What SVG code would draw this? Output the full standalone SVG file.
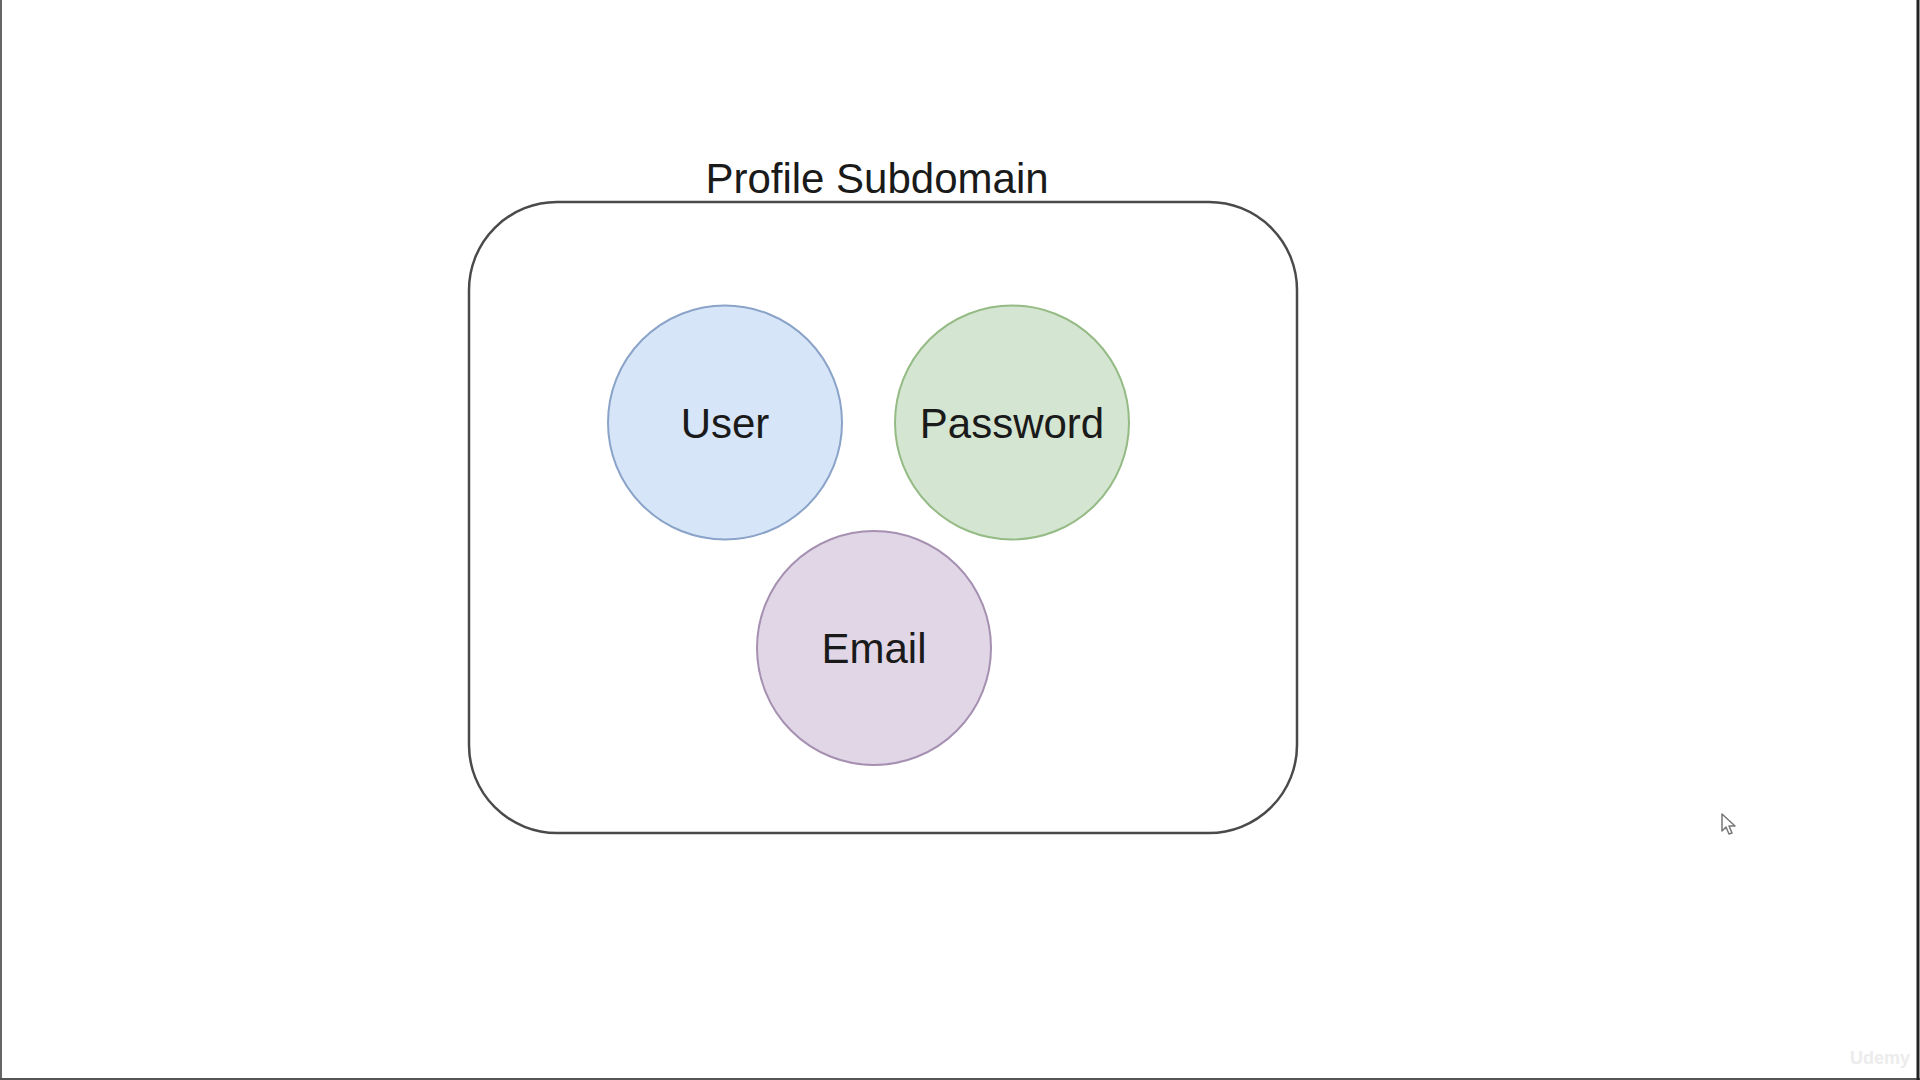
<svg xmlns="http://www.w3.org/2000/svg" width="1920" height="1080" viewBox="0 0 1920 1080">
  <style>
    .lbl { font-family: "Liberation Sans", Arial, sans-serif; font-size: 42px; fill: #1a1a1a; text-anchor: middle; }
    .ent { stroke-width: 2; }
  </style>
  <rect x="0" y="0" width="1920" height="1080" fill="#ffffff"/>
  <!-- screen frame -->
  <line x1="1" y1="0" x2="1" y2="1080" stroke="#666" stroke-width="2"/>
  <line x1="0" y1="1079" x2="1920" y2="1079" stroke="#555" stroke-width="2"/>
  <line x1="1918" y1="0" x2="1918" y2="1080" stroke="#222" stroke-width="3"/>

  <g id="profile-subdomain">
    <rect x="469" y="202" width="828" height="631" rx="88" ry="88" fill="#ffffff" stroke="#4a4a4a" stroke-width="2.5"/>
    <text class="lbl" x="877" y="193">Profile Subdomain</text>
  </g>
  <g id="user">
    <circle class="ent" cx="725" cy="422.5" r="117" fill="#d7e5f8" stroke="#8aa3c8"/>
    <text class="lbl" x="725" y="437.5">User</text>
  </g>
  <g id="password">
    <circle class="ent" cx="1012" cy="422.5" r="117" fill="#d4e5d2" stroke="#95bb85"/>
    <text class="lbl" x="1012" y="437.5">Password</text>
  </g>
  <g id="email">
    <circle class="ent" cx="874" cy="648" r="117" fill="#e1d6e6" stroke="#a690b2"/>
    <text class="lbl" x="874" y="663">Email</text>
  </g>
  <g id="connectors"></g>

  <!-- mouse cursor -->
  <path d="M1722,814 L1722,831 L1726,827 L1729,834 L1732,833 L1729,826 L1735,826 Z" fill="#ffffff" stroke="#777" stroke-width="1.5" stroke-linejoin="round"/>
  <!-- watermark -->
  <text x="1880" y="1064" font-family="'Liberation Sans', Arial, sans-serif" font-size="18" font-weight="bold" fill="#ececec" text-anchor="middle">Udemy</text>
</svg>
